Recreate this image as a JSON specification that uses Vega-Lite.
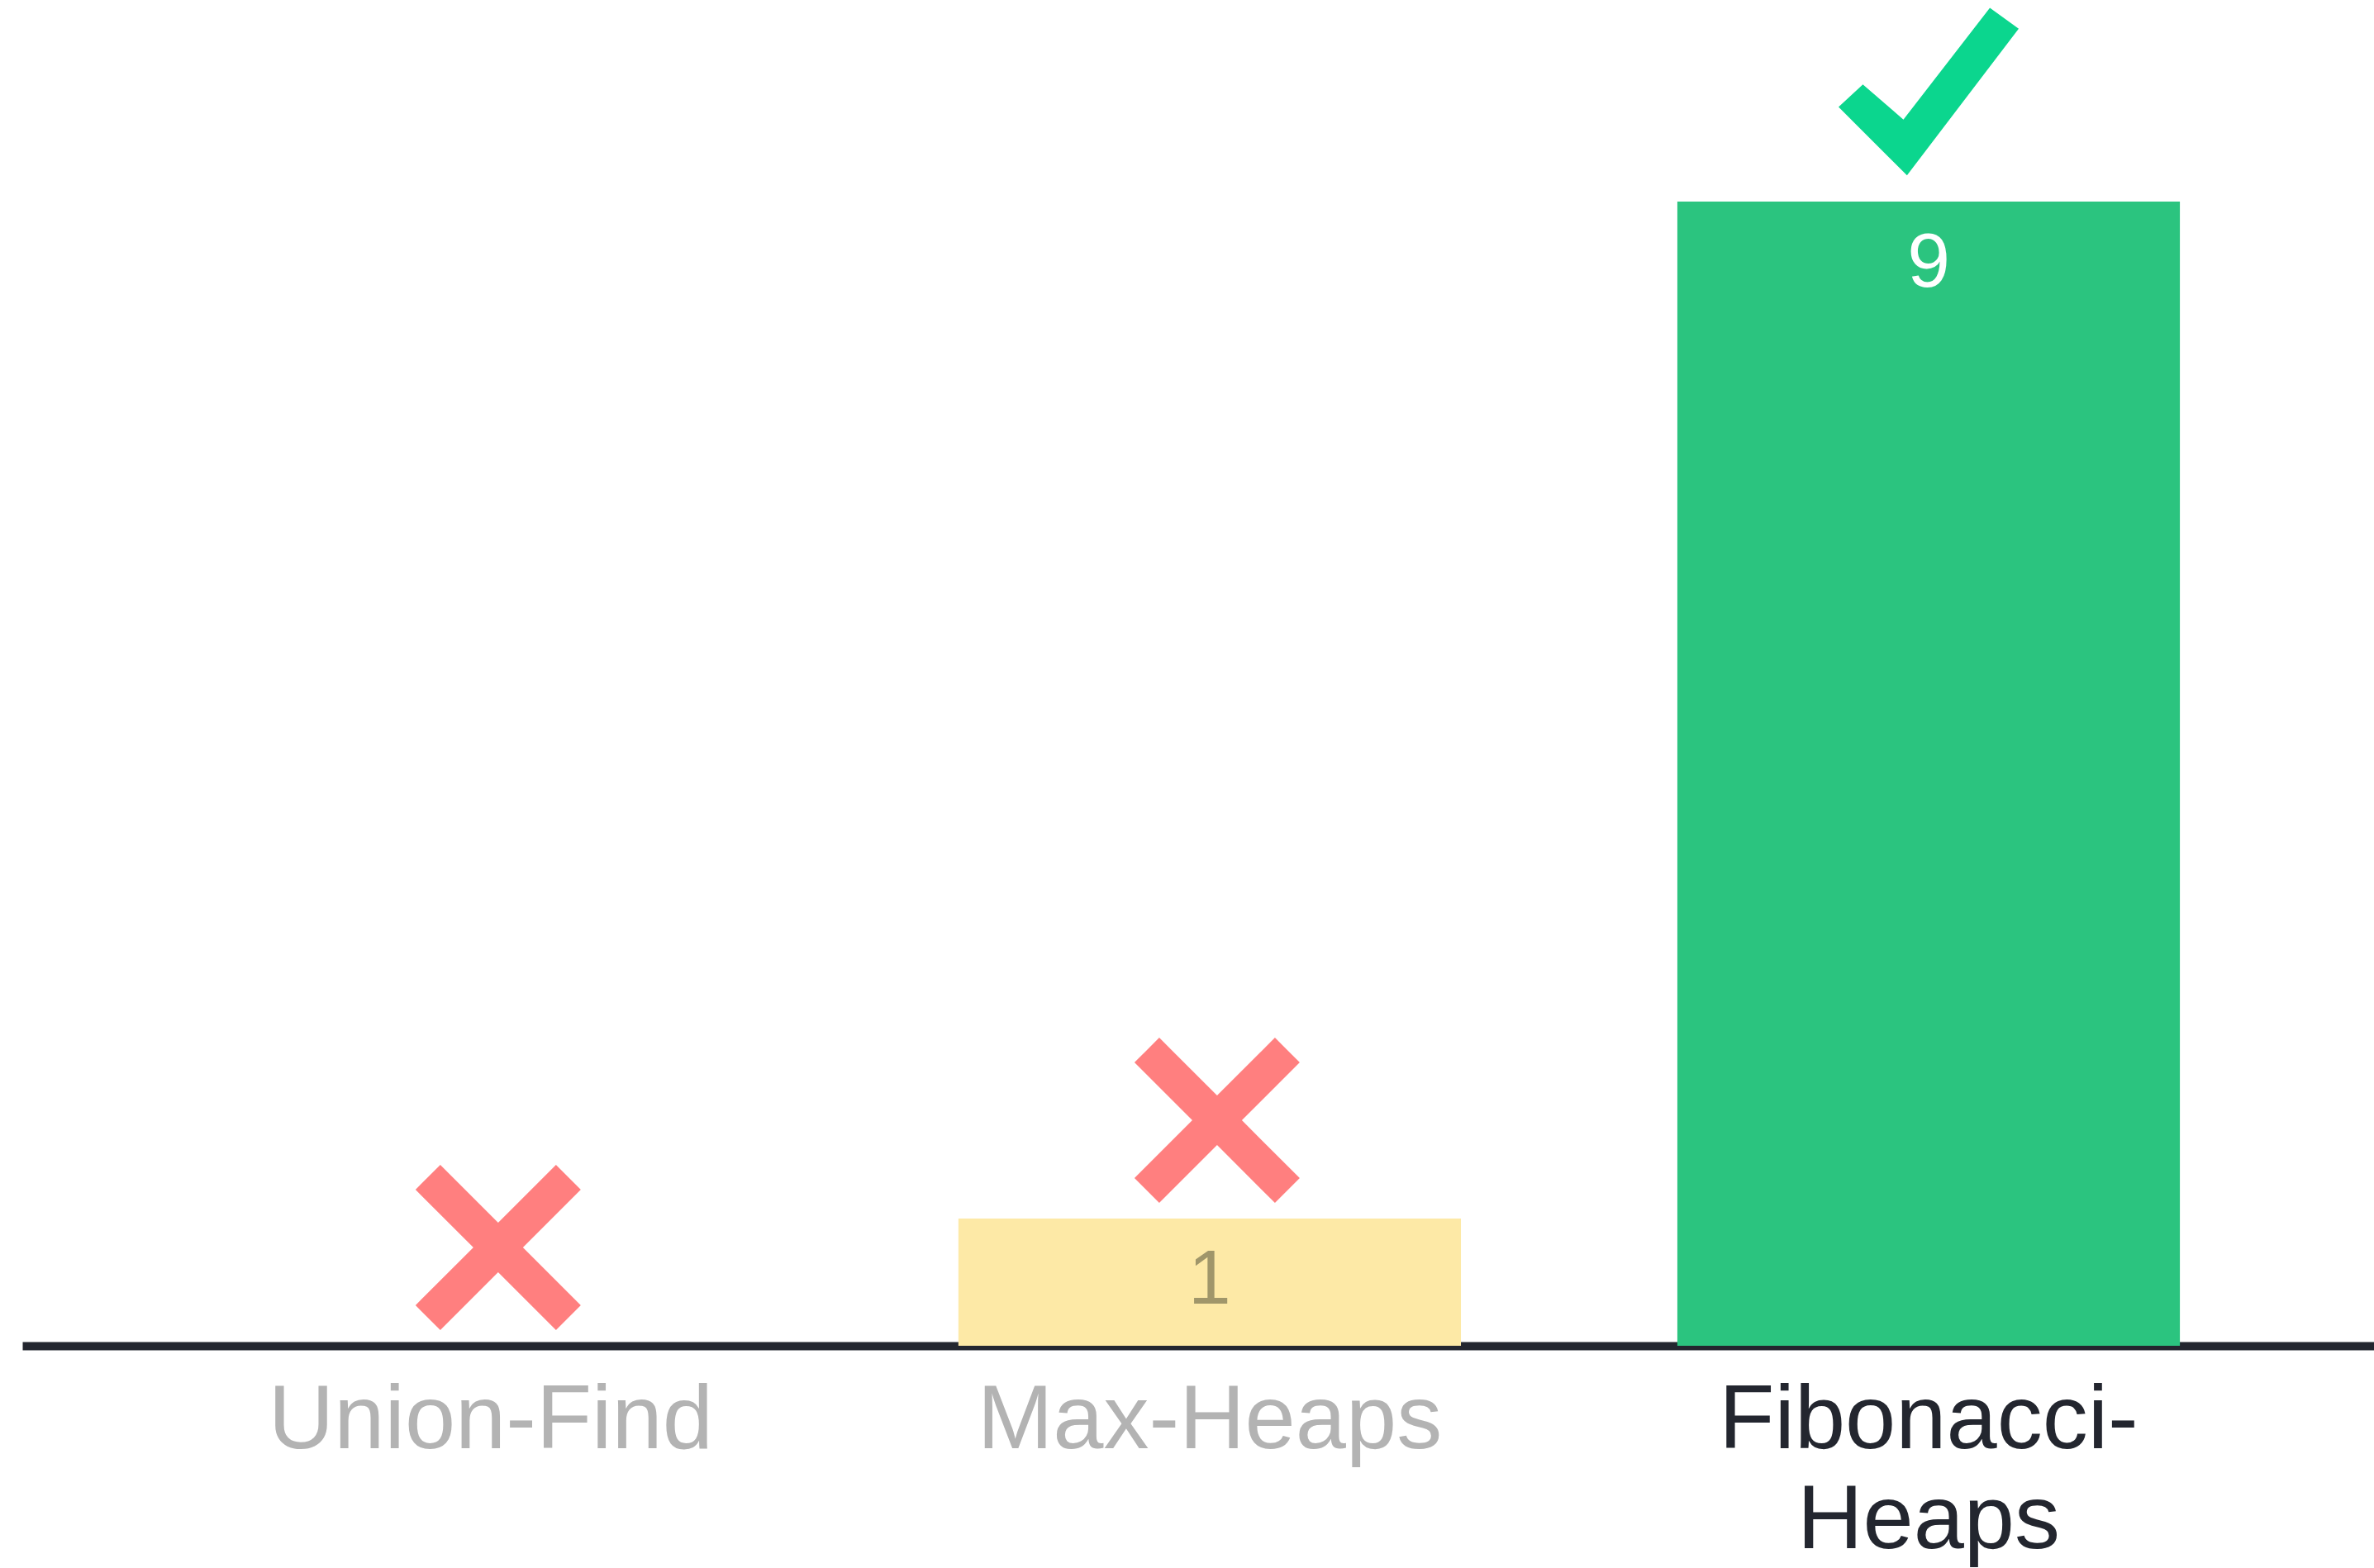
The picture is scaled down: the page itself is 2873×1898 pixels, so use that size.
{
  "$schema": "https://vega.github.io/schema/vega-lite/v6.json",
  "autosize": "none",
  "padding": {"left": 27, "top": 0, "right": 0, "bottom": 269},
  "width": 2846,
  "height": 1629,
  "background": "#ffffff",
  "config": {"view": {"stroke": null}, "axisX": {"domainWidth": 10, "domainColor": "#23262f"}},
  "data": {
    "values": [
      {"name": "Union-Find", "value": 0, "ok": false},
      {"name": "Max-Heaps", "value": 1, "ok": false},
      {"name": "Fibonacci-Heaps", "value": 9, "ok": true}
    ]
  },
  "encoding": {
    "x": {
      "field": "name",
      "type": "nominal",
      "sort": null,
      "scale": {"paddingInner": 0.301, "paddingOuter": 0.286, "align": 0.528},
      "axis": {
        "title": null,
        "ticks": false,
        "tickSize": 0,
        "labelPadding": 36,
        "labelAngle": 0,
        "labelFont": "Liberation Sans",
        "labelFontSize": 110,
        "labelLineHeight": 121,
        "labelBaseline": "top",
        "labelExpr": "datum.value == 'Fibonacci-Heaps' ? ['Fibonacci-', 'Heaps'] : datum.value",
        "labelColor": {"condition": {"test": "datum.value == 'Fibonacci-Heaps'", "value": "#23262f"}, "value": "#b3b3b3"},
        "domainColor": "#23262f",
        "domainWidth": 10,
        "labelOverlap": false,
        "labelLimit": 0
      }
    },
    "y": {
      "field": "value",
      "type": "quantitative",
      "scale": {"domain": [0, 10.585], "nice": false, "zero": true},
      "axis": null
    }
  },
  "layer": [
    {
      "mark": {"type": "bar"},
      "encoding": {
        "color": {
          "field": "name",
          "type": "nominal",
          "scale": {"domain": ["Union-Find", "Max-Heaps", "Fibonacci-Heaps"], "range": ["#ffffff", "#fde9a6", "#2bc47f"]},
          "legend": null
        }
      }
    },
    {
      "transform": [{"filter": "datum.value > 0"}],
      "mark": {"type": "text", "font": "Liberation Sans", "fontSize": 93, "baseline": "alphabetic", "dy": 103},
      "encoding": {
        "text": {"field": "value", "type": "quantitative"},
        "color": {"condition": {"test": "datum.ok", "value": "#ffffff"}, "value": "#a0966a"}
      }
    },
    {
      "transform": [{"filter": "!datum.ok"}],
      "mark": {
        "type": "point",
        "filled": true,
        "opacity": 1,
        "strokeWidth": 0,
        "color": "#ff7f7f",
        "size": 40000,
        "yOffset": -119,
        "xOffset": 9,
        "shape": "M -0.7 -1 L 0 -0.3 L 0.7 -1 L 1 -0.7 L 0.3 0 L 1 0.7 L 0.7 1 L 0 0.3 L -0.7 1 L -1 0.7 L -0.3 0 L -1 -0.7 Z"
      },
      "encoding": {}
    },
    {
      "transform": [{"filter": "datum.ok"}],
      "mark": {
        "type": "point",
        "filled": true,
        "opacity": 1,
        "strokeWidth": 0,
        "color": "#0bd68e",
        "size": 47524,
        "yOffset": -133,
        "shape": "M -0.73 -0.08 L -0.28 0.31 L 0.68 -0.93 L 1 -0.7 L -0.24 0.93 L -1 0.17 Z"
      },
      "encoding": {}
    }
  ]
}
